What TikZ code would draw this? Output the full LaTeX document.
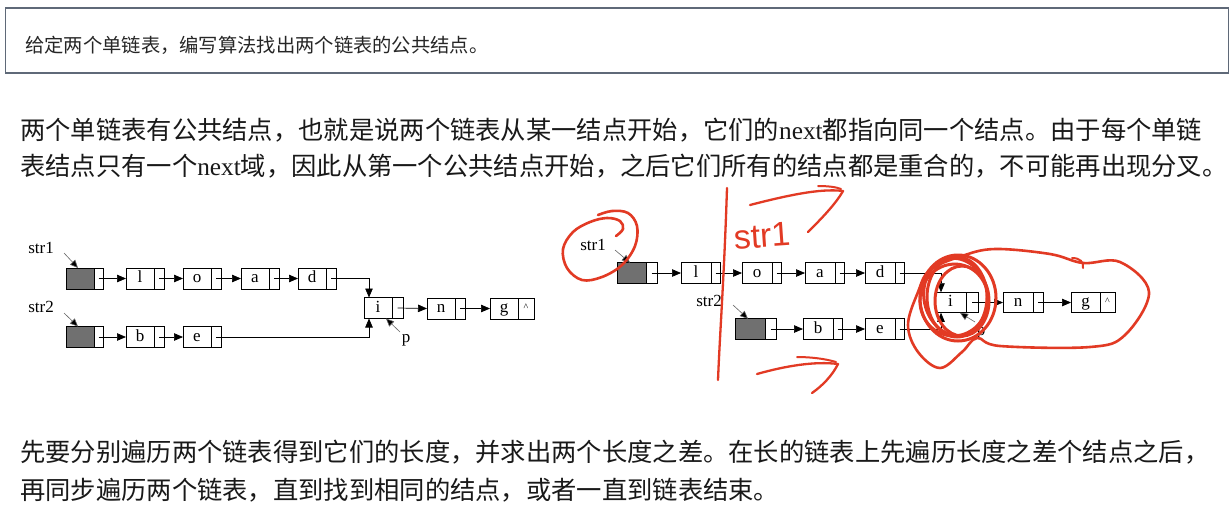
\documentclass[tikz,border=0pt]{standalone}
\usepackage{fontspec}
\setmainfont{Liberation Serif}
\newfontfamily\cjk{Noto Sans CJK SC}
\newfontfamily\handf{Liberation Sans}
\usetikzlibrary{arrows.meta,calc}
\definecolor{ann}{RGB}{226,58,36}
\definecolor{boxline}{RGB}{95,105,120}
\definecolor{txt}{RGB}{25,25,25}
\definecolor{headgray}{RGB}{112,112,112}
\newcommand\lat[1]{{\rmfamily #1}}
\begin{document}
\begin{tikzpicture}[x=1pt,y=-1pt,
  dat/.style={draw=black, line width=0.6pt, minimum height=21pt, minimum width=28pt, inner sep=0pt, outer sep=0pt, anchor=west, font=\fontsize{17}{17}\selectfont, text height=11pt, text depth=3pt},
  rdat/.style={dat, minimum width=30pt, minimum height=20.5pt},
  ptr/.style={draw=black, line width=0.6pt, minimum height=21pt, minimum width=10pt, inner sep=0pt, outer sep=0pt, anchor=west},
  rptr/.style={ptr, minimum width=9pt, minimum height=20.5pt},
  headbox/.style={fill=headgray},
  link/.style={line width=0.7pt, -{Triangle[length=9pt,width=7.5pt]}},
  pointer/.style={line width=0.6pt, draw=black!60, -{Triangle[length=8pt,width=7pt,fill=black]}},
  lbl/.style={font=\fontsize{17}{17}\selectfont, inner sep=0pt},
  para/.style={anchor=base west, inner sep=0pt, font=\cjk\fontsize{25.3}{25.3}\selectfont, text=txt},
  annline/.style={draw=ann, line width=2.6pt, line cap=round, line join=round},
]
\useasboundingbox (0,0) rectangle (1230,512);
\fill[white] (0,0) rectangle (1230,512);

% header
\node[draw=boxline, line width=1.5pt, fill=white, minimum width=1223pt, minimum height=65pt, anchor=north west, inner sep=0pt] (hdr) at (4.5,7) {};
\node[anchor=base west, inner sep=0pt, font=\cjk\fontsize{19.3}{19.3}\selectfont, text=black!85] (title) at (25,52) {给定两个单链表，编写算法找出两个链表的公共结点。};

% paragraphs
\node[para] (p1) at (20,139) {两个单链表有公共结点，也就是说两个链表从某一结点开始，它们的\lat{next}都指向同一个结点。由于每个单链};
\node[para] (p2) at (20,175) {表结点只有一个\lat{next}域，因此从第一个公共结点开始，之后它们所有的结点都是重合的，不可能再出现分叉。};
\node[para] (p3) at (20,461) {先要分别遍历两个链表得到它们的长度，并求出两个长度之差。在长的链表上先遍历长度之差个结点之后，};
\node[para] (p4) at (20,499) {再同步遍历两个链表，直到找到相同的结点，或者一直到链表结束。};

% ---------- left diagram ----------
\node[dat, headbox] (LH1) at (66,278.5) {};
\node[ptr, minimum width=9pt] (LH1p) at (LH1.east) {};
\node[dat] (L1) at (126,278.5) {l};   \node[ptr] (L1p) at (L1.east) {};
\node[dat] (Lo) at (183,278.5) {o};   \node[ptr] (Lop) at (Lo.east) {};
\node[dat] (La) at (241,278.5) {a};   \node[ptr] (Lap) at (La.east) {};
\node[dat] (Ld) at (298,278.5) {d};   \node[ptr] (Ldp) at (Ld.east) {};
\node[dat, headbox] (LH2) at (66,337) {};
\node[ptr, minimum width=9pt] (LH2p) at (LH2.east) {};
\node[dat] (Lb) at (126,337) {b};   \node[ptr] (Lbp) at (Lb.east) {};
\node[dat] (Le) at (183,337) {e};   \node[ptr] (Lep) at (Le.east) {};
\node[dat] (Li) at (364,308) {i};   \node[ptr, minimum width=11pt] (Lip) at (Li.east) {};
\node[dat] (Ln) at (427,308.5) {n};   \node[ptr] (Lnp) at (Ln.east) {};
\node[dat] (Lg) at (490,308.5) {g};   \node[ptr, minimum width=16pt, font=\fontsize{10}{10}\selectfont] (Lgp) at (Lg.east) {\raisebox{2pt}{\textasciicircum}};

\draw[link] (LH1p.center) -- (L1.west);
\draw[link] (L1p.center) -- (Lo.west);
\draw[link] (Lop.center) -- (La.west);
\draw[link] (Lap.center) -- (Ld.west);
\draw[link] (Ldp.center) -| ([xshift=5pt]Li.north west);
\draw[link] (LH2p.center) -- (Lb.west);
\draw[link] (Lbp.center) -- (Le.west);
\draw[link] (Lep.center) -| ([xshift=5pt]Li.south west);
\draw[link] (Lip.center) -- (Ln.west);
\draw[link] (Lnp.center) -- (Lg.west);

\node[lbl] (Ls1) at (41,248) {str1};
\node[lbl] (Ls2) at (41,307) {str2};
\node[lbl] (Lpl) at (406,340) {p};
\coordinate (Ls1a) at (64,253);
\coordinate (Ls2a) at (64,313);
\coordinate (Lpa) at (400,332);
\draw[pointer] (Ls1a) -- ([xshift=12pt]LH1.north west);
\draw[pointer] (Ls2a) -- ([xshift=12pt]LH2.north west);
\draw[pointer] (Lpa) -- ([xshift=-6pt]Li.south east);

% ---------- right diagram ----------
\node[rdat, headbox, minimum width=29pt] (RH1) at (617,273) {};
\node[rptr, minimum width=11pt] (RH1p) at (RH1.east) {};
\node[rdat] (R1) at (681,273) {l};   \node[rptr] (R1p) at (R1.east) {};
\node[rdat] (Ro) at (742,273) {o};   \node[rptr] (Rop) at (Ro.east) {};
\node[rdat] (Ra) at (805,273) {a};   \node[rptr] (Rap) at (Ra.east) {};
\node[rdat] (Rd) at (865,273) {d};   \node[rptr] (Rdp) at (Rd.east) {};
\node[rdat, headbox] (RH2) at (735,329) {};
\node[rptr, minimum width=11pt] (RH2p) at (RH2.east) {};
\node[rdat] (Rb) at (803,329) {b};   \node[rptr] (Rbp) at (Rb.east) {};
\node[rdat] (Re) at (865,329) {e};   \node[rptr] (Rep) at (Re.east) {};
\node[rdat, minimum width=31pt] (Ri) at (935,302.5) {i};   \node[rptr, minimum width=12pt] (Rip) at (Ri.east) {};
\node[rdat] (Rn) at (1003,302.5) {n};   \node[rptr, minimum width=10pt] (Rnp) at (Rn.east) {};
\node[rdat, minimum width=29pt] (Rg) at (1071,302.5) {g};   \node[rptr, minimum width=15pt, font=\fontsize{10}{10}\selectfont] (Rgp) at (Rg.east) {\raisebox{2pt}{\textasciicircum}};

\draw[link] (RH1p.center) -- (R1.west);
\draw[link] (R1p.center) -- (Ro.west);
\draw[link] (Rop.center) -- (Ra.west);
\draw[link] (Rap.center) -- (Rd.west);
\draw[link] (Rdp.center) -| ([xshift=6pt]Ri.north west);
\draw[link] (RH2p.center) -- (Rb.west);
\draw[link] (Rbp.center) -- (Re.west);
\draw[link] (Rep.center) -| ([xshift=6pt]Ri.south west);
\draw[link] (Rip.center) -- (Rn.west);
\draw[link] (Rnp.center) -- (Rg.west);

\node[lbl] (Rs1) at (593,245) {str1};
\node[lbl] (Rs2) at (709,301) {str2};
\node[lbl] (Rpl) at (981,333) {p};
\coordinate (Rs1a) at (615,250);
\coordinate (Rs2a) at (733,305);
\coordinate (Rpa) at (975,322);
\draw[pointer] (Rs1a) -- ([xshift=13pt]RH1.north west);
\draw[pointer] (Rs2a) -- ([xshift=13pt]RH2.north west);
\draw[pointer] (Rpa) -- ([xshift=-6pt]Ri.south east);

% ---------- red hand annotations ----------
% loop round str1
\draw[annline] plot[smooth, tension=0.6] coordinates {(616,236) (623,229) (620,221) (607,218) (590,222) (573,232) (563,249) (567,268) (582,280) (602,277) (622,265) (635,246) (637,226) (628,213) (612,211) (598,215)};
% vertical stroke
\draw[annline, line width=2.3pt] (727,188) .. controls (724,280) and (720,330) .. (718,380);
% handwritten str1
\node[text=ann, font=\handf\fontsize{34}{34}\selectfont, inner sep=0pt, rotate=4] (hs) at (762,236) {str1};
% upper arrow
\draw[annline, line width=2.3pt] (750,205) .. controls (785,196) and (820,188) .. (843,191) .. controls (835,205) and (820,220) .. (808,232);
\draw[annline, line width=2pt] (818,186) .. controls (828,186) and (836,187) .. (841,189);
% lower arrow
\draw[annline, line width=2.3pt] (757,374) .. controls (785,366) and (815,361) .. (838,364) .. controls (832,376) and (822,386) .. (812,393);
\draw[annline, line width=2pt] (797,357) .. controls (812,357) and (826,359) .. (836,362);
% circles round i
\draw[annline, line width=3pt] (958,298) ellipse [x radius=38pt, y radius=43pt];
\draw[annline, line width=3pt, rotate around={12:(956,297)}] (956,297) ellipse [x radius=32pt, y radius=39pt];
\draw[annline, line width=3pt] (962,301) ellipse [x radius=27pt, y radius=35pt];
\draw[annline, line width=3pt, rotate around={-10:(954,300)}] (954,300) ellipse [x radius=34pt, y radius=36pt];
\draw[annline, line width=3pt] (957,297) ellipse [x radius=30pt, y radius=40pt];
% big loop round i, n, g
\draw[annline, line width=2.6pt] plot[smooth cycle, tension=0.6] coordinates {(962,256) (995,249) (1050,254) (1083,263) (1120,262) (1149,292) (1125,335) (1090,347) (1000,346) (977,338) (962,352) (940,368) (918,352) (908,325) (918,292) (930,270)};
\draw[annline, line width=2pt] (1072,258) .. controls (1080,258) and (1084,262) .. (1083,268);
\end{tikzpicture}
\end{document}
